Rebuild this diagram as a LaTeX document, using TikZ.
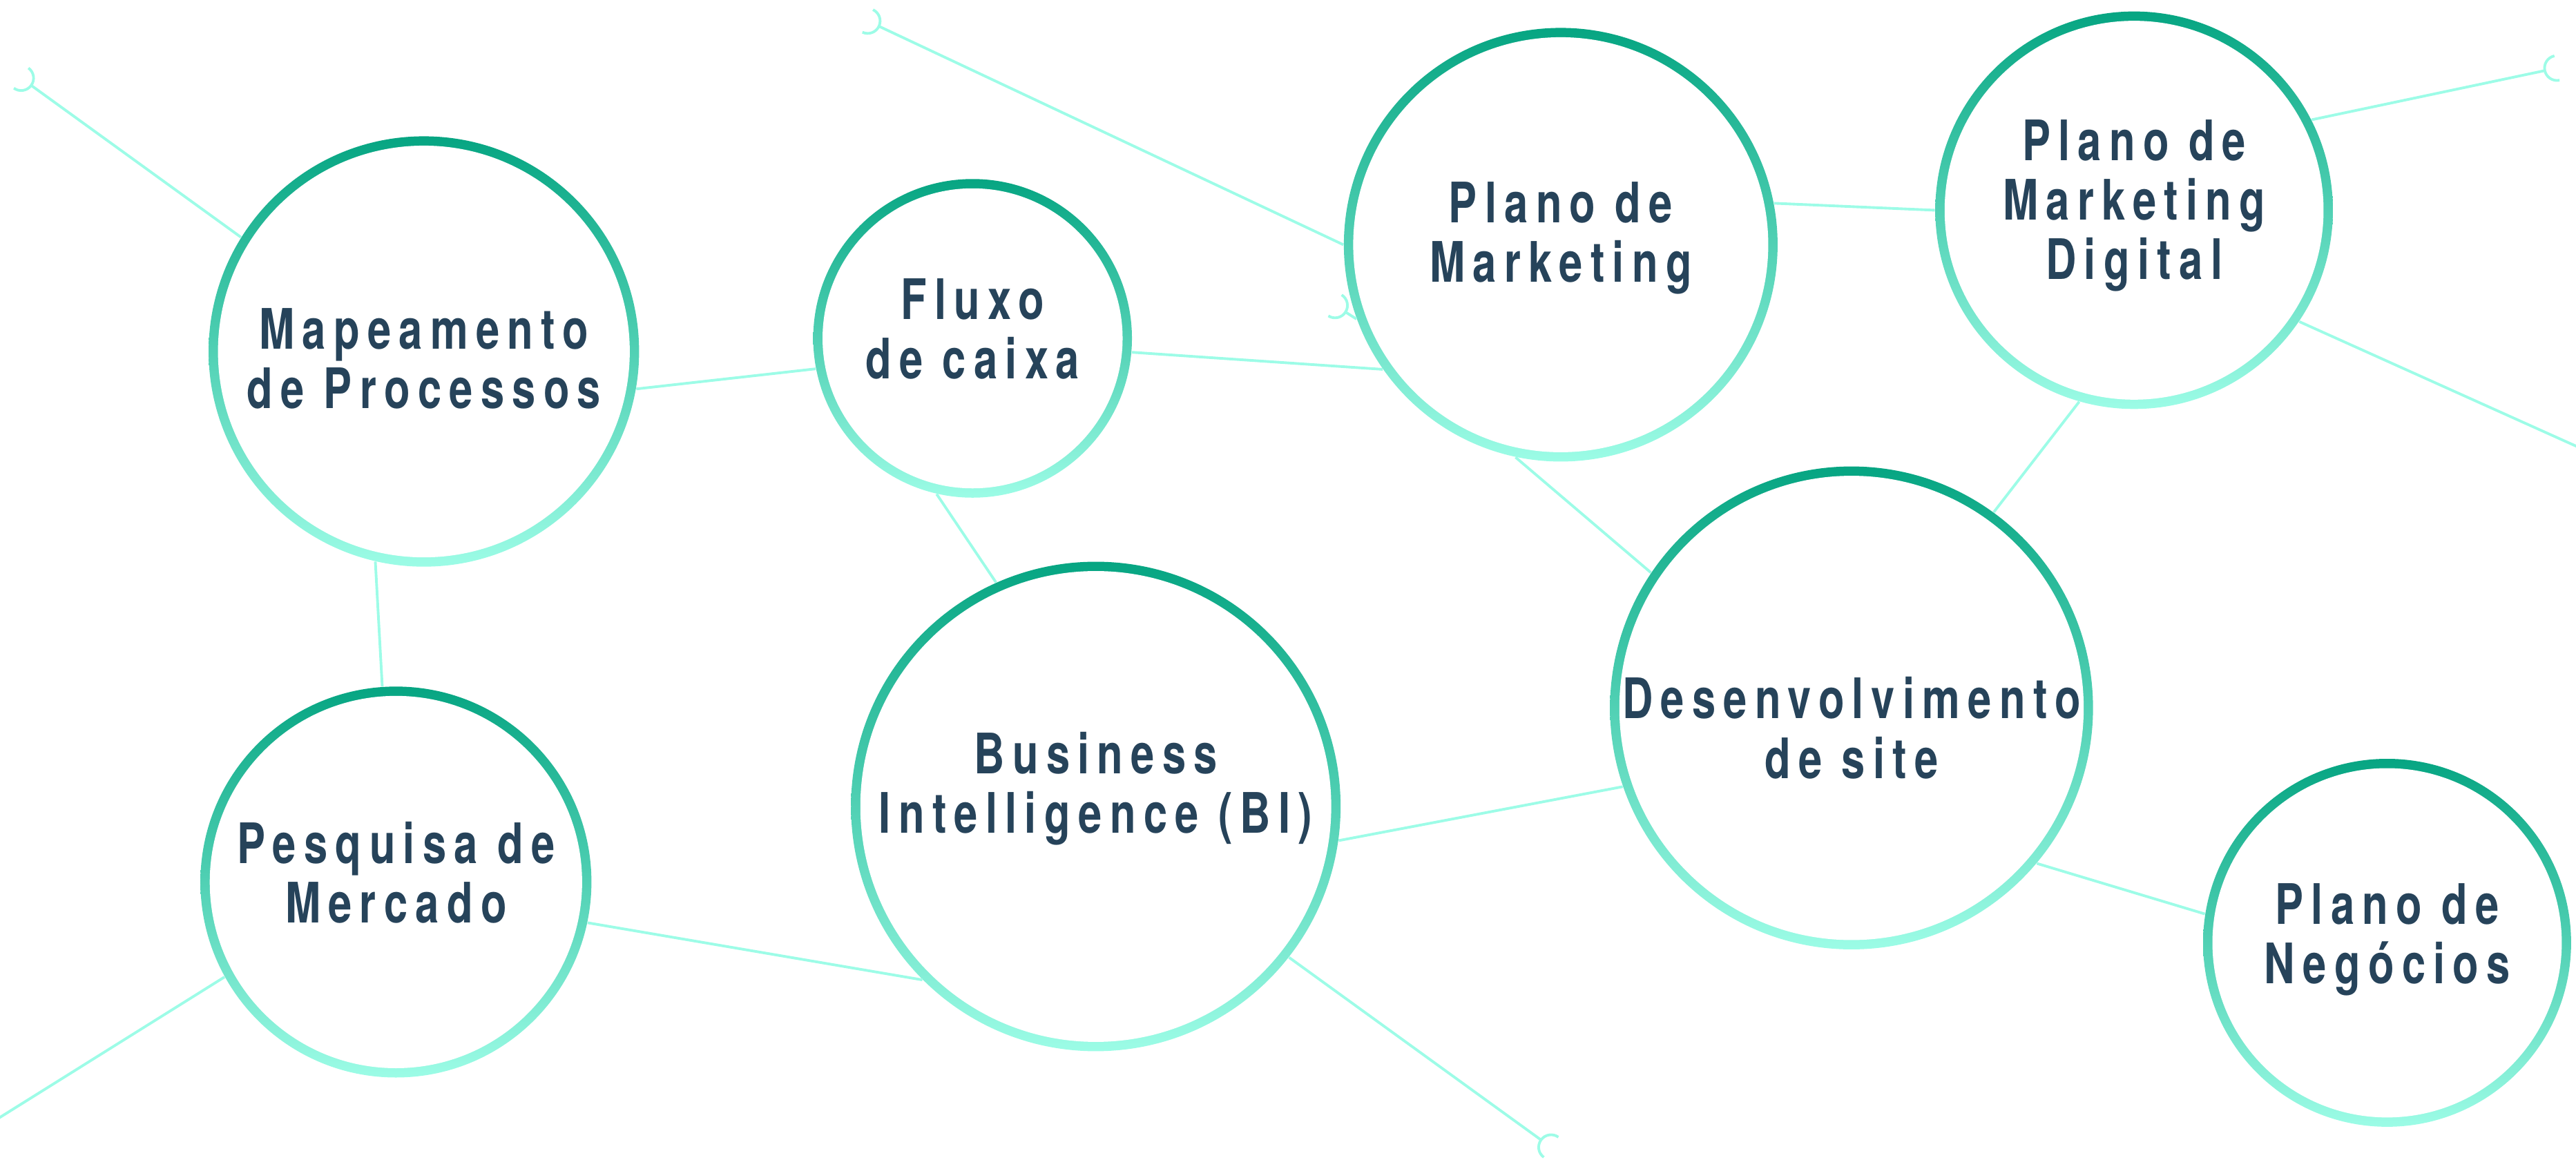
\documentclass[tikz,border=0pt]{standalone}
\usepackage{fontspec}
\setmainfont{TeX Gyre Heros}[FakeStretch=0.76, LetterSpace=14]
\usepackage{tikz}

\definecolor{ringtop}{HTML}{06A582}
\definecolor{ringbot}{HTML}{9CFCE6}
\definecolor{wire}{HTML}{9DFCE7}
\definecolor{ink}{HTML}{26435A}

\tikzset{
  bub/.style={circle, inner sep=0pt, minimum size=#1*0.4758mm, top color=ringtop, bottom color=ringbot,
    path picture={\fill[white] (path picture bounding box.center) circle ({#1*0.2379mm-1.35mm});}},
  lbl/.style={text=ink, font=\fontsize{23}{24.5}\selectfont\bfseries, align=center},
  lnk/.style={draw=wire, line width=1.1pt},
  pics/socket/.style={code={\draw[wire, line width=1.1pt] (1.8mm,1.8mm) arc[start angle=90, end angle=270, radius=1.8mm];}},
}

\begin{document}
\begin{tikzpicture}[x=0.2379mm, y=0.2379mm]
\useasboundingbox (0,0) rectangle (1568,706);

% bubbles
\node[bub=131, label={[lbl,yshift=-1mm]center:{Mapeamento\\de Processos}}] (mapa) at (258,492) {};
\node[bub=97, label={[lbl,yshift=1.4mm]center:{Fluxo\\de caixa}}] (fluxo) at (592,500) {};
\node[bub=132, label={[lbl,yshift=1mm]center:{Plano de\\Marketing}}] (pmkt) at (950,557) {};
\node[bub=121, label={[lbl,yshift=0.7mm]center:{Plano de\\Marketing\\Digital}}] (pdig) at (1299,578) {};
\node[bub=147, label={[lbl,yshift=-2.9mm]center:{Desenvolvimento\\de site}}] (dsite) at (1127,275) {};
\node[bub=149, label={[lbl,yshift=2.6mm]center:{Business\\Intelligence (BI)}}] (bi) at (667,215) {};
\node[bub=119, label={[lbl,yshift=1.4mm]center:{Pesquisa de\\Mercado}}] (pesq) at (241,169) {};
\node[bub=112, label={[lbl,yshift=0.5mm]center:{Plano de\\Negócios}}] (pneg) at (1453,132) {};

% loose ends
\coordinate (h1) at (19,654);
\coordinate (h2) at (535,690);
\coordinate (h3) at (819,516);
\coordinate (h4) at (1549,663);
\coordinate (h5) at (938,12);
\coordinate (e1) at (1600,420);
\coordinate (e2) at (-30,7);

\draw[lnk] (mapa.148) -- (h1) pic[pos=1, sloped, allow upside down]{socket};
\draw[lnk] (mapa.-10) -- (fluxo.191);
\draw[lnk] (mapa.-103) -- (pesq.94);
\draw[lnk] (fluxo.-5) -- (pmkt.215);
\draw[lnk] (fluxo.-103) -- (bi.114);
\draw[lnk] (pmkt.180) -- (h2) pic[pos=1, sloped, allow upside down]{socket};
\draw[lnk] (pmkt.200) -- (h3) pic[pos=1, sloped, allow upside down]{socket};
\draw[lnk] (pmkt.11) -- (pdig.180);
\draw[lnk] (pmkt.-102) -- (dsite.146);
\draw[lnk] (pdig.27) -- (h4) pic[pos=1, sloped, allow upside down]{socket};
\draw[lnk] (pdig.-34) -- (e1);
\draw[lnk] (pdig.-106) -- (dsite.54);
\draw[lnk] (dsite.199) -- (bi.-8);
\draw[lnk] (dsite.-40) -- (pneg.171);
\draw[lnk] (bi.225) -- (pesq.-12);
\draw[lnk] (bi.-38) -- (h5) pic[pos=1, sloped, allow upside down]{socket};
\draw[lnk] (pesq.209) -- (e2);
\end{tikzpicture}
\end{document}
